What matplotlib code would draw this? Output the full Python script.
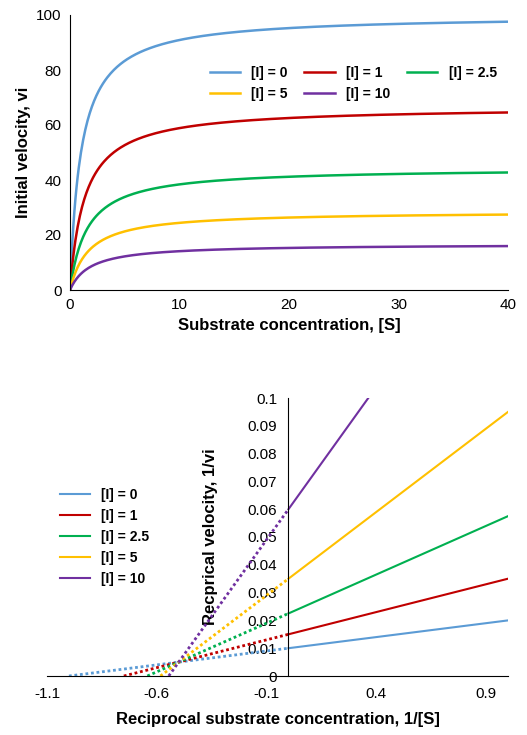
import numpy as np
import matplotlib
matplotlib.use("Agg")
import matplotlib.pyplot as plt

labels = ["[I] = 0", "[I] = 1", "[I] = 2.5", "[I] = 5", "[I] = 10"]
colors = ["#5B9BD5", "#C00000", "#00B050", "#FFC000", "#7030A0"]
# apparent parameters
vmax_app = [100.0, 66.7, 44.4, 28.6, 16.7]
km_app = [1.0, 1.33, 1.56, 1.71, 1.83]
# Lineweaver-Burk slopes and intercepts
lb_slope = [0.01, 0.02, 0.035, 0.06, 0.11]
lb_int = [0.01, 0.015, 0.0225, 0.035, 0.06]

plt.rcParams['font.family'] = ['Liberation Sans', 'DejaVu Sans']
fig = plt.figure(figsize=(5.27, 7.35), dpi=100)

ax1 = fig.add_axes([70/527, 1-290/735, 438/527, 275/735])
S = np.linspace(0, 40, 400)
handles = []
for lab, c, vm, km in zip(labels, colors, vmax_app, km_app):
    h, = ax1.plot(S, vm*S/(km+S), color=c, lw=1.8, label=lab)
    handles.append(h)
ax1.set_xlim(0, 40); ax1.set_ylim(0, 100)
ax1.set_xticks([0, 10, 20, 30, 40]); ax1.set_yticks(range(0, 101, 20))
for s in ["top", "right"]:
    ax1.spines[s].set_visible(False)
ax1.tick_params(length=0, labelsize=11, pad=6)
ax1.set_xlabel("Substrate concentration, [S]", fontsize=12, fontweight="bold")
ax1.set_ylabel("Initial velocity, vi", fontsize=12, fontweight="bold")
# row-major order: 0, 1, 2.5 / 5, 10 -> column-major arrangement
order = [0, 3, 1, 4, 2]
ax1.legend([handles[i] for i in order], [labels[i] for i in order],
           ncol=3, frameon=False, loc="upper left", bbox_to_anchor=(0.29, 0.86),
           prop={"weight": "bold", "size": 10}, columnspacing=1.2, handlelength=2.2)

ax2 = fig.add_axes([47/527, 1-676/735, 461/527, 278/735])
for lab, c, m, b in zip(labels, colors, lb_slope, lb_int):
    x0 = -b/m
    xd = np.linspace(x0, 0, 50)
    ax2.plot(xd, m*xd+b, color=c, lw=2, ls=(0, (1, 1)))
    xs = np.linspace(0, 1.0, 50)
    ax2.plot(xs, m*xs+b, color=c, lw=1.5, label=lab)
ax2.set_xlim(-1.1, 1.0); ax2.set_ylim(0, 0.1)
ax2.set_xticks([-1.1, -0.6, -0.1, 0.4, 0.9])
ax2.set_xticklabels(["-1.1", "-0.6", "-0.1", "0.4", "0.9"])
ax2.set_yticks(np.arange(0, 0.101, 0.01))
ax2.set_yticklabels(["0", "0.01", "0.02", "0.03", "0.04", "0.05", "0.06", "0.07", "0.08", "0.09", "0.1"])
ax2.spines["left"].set_position(("data", 0))
ax2.spines["left"].set_color("black")
for s in ["top", "right"]:
    ax2.spines[s].set_visible(False)
ax2.tick_params(length=0, labelsize=11, pad=8)
ax2.set_xlabel("Reciprocal substrate concentration, 1/[S]", fontsize=12, fontweight="bold", labelpad=8)
ax2.set_ylabel("Recprical velocity, 1/vi", fontsize=12, fontweight="bold")
ax2.yaxis.set_label_coords(0.37, 0.5)
ax2.legend(frameon=False, loc="upper left", bbox_to_anchor=(0.0, 0.72),
           prop={"weight": "bold", "size": 10}, handlelength=2.2, labelspacing=0.5)

fig.savefig("out.png", dpi=100)
